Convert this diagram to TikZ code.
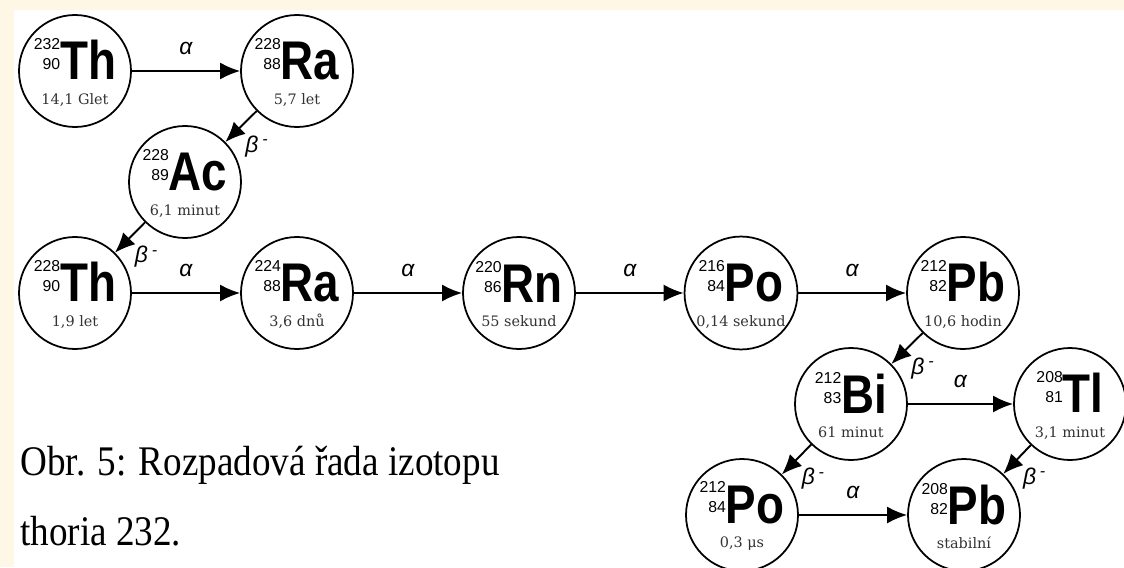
\documentclass[tikz,border=0pt]{standalone}
\usepackage{fontspec}
\setmainfont{Liberation Serif}
\newfontfamily\symfont[FakeStretch=0.84]{Liberation Sans}
\newfontfamily\numfont{Liberation Sans}
\newfontfamily\lifefont{DejaVu Serif}
\newfontfamily\capfont[FakeStretch=0.88]{Liberation Serif}
\usepackage{tikz}
\usetikzlibrary{arrows.meta,positioning}
\definecolor{cream}{RGB}{255,247,230}
\definecolor{lifegray}{RGB}{51,51,51}

% mass number, atomic number, element symbol
\newcommand{\nuc}[3]{%
	{\color{black}\numfont\fontsize{9}{10.8}\selectfont
		\raisebox{6pt}{\begin{tabular}[b]{@{}r@{}}#1\\[0.6pt]#2\end{tabular}}}%
	{\color{black}\symfont\bfseries\fontsize{31}{33}\selectfont #3}}

\begin{document}
\begin{tikzpicture}[
		node distance=4.44cm,
		>={Latex[length=4mm,width=3.4mm]},
		font=\lifefont\fontsize{8.2}{9.8}\selectfont,
		nuclide/.style={
			circle,
			draw=black,
			line width=1pt,
			minimum size=2.24cm,
			inner sep=0pt,
			align=center,
			text=lifegray,
			fill=white
		},
		decay/.style={
			->,
			line width=1.1pt
		},
		lbl/.style={
			font=\numfont\itshape\fontsize{13}{15}\selectfont,
			inner sep=0pt,
			text=black
		},
		betalbl/.style={
			lbl,
			pos=0.9,
			right=0.32cm,
			yshift=-1.5mm
		}
		]
		\useasboundingbox (-1.5,1.42) rectangle (20.98,-9.92);
		\fill [cream] (-1.5,1.42) rectangle (20.98,1.22);
		\fill [cream] (-1.5,1.42) rectangle (-1.22,-9.92);
		
		% We start by placing the nuclides
		\node [nuclide] (th232) {\nuc{232}{90}{Th}\\[4pt]14,1 Glet};
		\node [nuclide, right of=th232] (ra228) {\nuc{228}{88}{Ra}\\[4pt]5,7 let};
		\node [nuclide, below of=ra228, node distance=2.22cm, xshift=-2.24cm] (ac228) {\nuc{228}{89}{Ac}\\[4pt]6,1 minut};
		\node [nuclide, below of=ac228, node distance=2.22cm, xshift=-2.2cm] (th228) {\nuc{228}{90}{Th}\\[4pt]1,9 let};
		\node [nuclide, right of=th228] (ra224) {\nuc{224}{88}{Ra}\\[4pt]3,6 dnů};
		\node [nuclide, right of=ra224] (rn220) {\nuc{220}{86}{Rn}\\[4pt]55 sekund};
		\node [nuclide, right of=rn220] (po216) {\nuc{216}{84}{Po}\\[4pt]0,14 sekund};
		\node [nuclide, right of=po216] (pb212) {\nuc{212}{82}{Pb}\\[4pt]10,6 hodin};
		\node [nuclide, below of=pb212, node distance=2.22cm, xshift=-2.24cm] (bi212) {\nuc{212}{83}{Bi}\\[4pt]61 minut};
		\node [nuclide, right of=bi212, xshift=-0.06cm] (tl208) {\nuc{208}{81}{Tl}\\[4pt]3,1 minut};
		\node [nuclide, below of=bi212, node distance=2.22cm, xshift=-2.18cm] (po212) {\nuc{212}{84}{Po}\\[4pt]0,3 μs};
		\node [nuclide, right of=po212] (pb208) {\nuc{208}{82}{Pb}\\[4pt]stabilní};
		
		% caption
		\node [anchor=base west, align=left, inner sep=0pt, font=\capfont\fontsize{24}{39.8}\selectfont] (caption) at (-1.1,-9.48) {Obr. 5: Rozpadová řada izotopu\\thoria 232.};
		
		% decays
		\draw [decay] (th232) -- node [lbl, above=0.3cm] {α} (ra228);
		\draw [decay] (ra228) -- node [betalbl] {β\,\textsuperscript{-}} (ac228);
		\draw [decay] (ac228) -- node [betalbl] {β\,\textsuperscript{-}} (th228);
		\draw [decay] (th228) -- node [lbl, above=0.3cm] {α} (ra224);
		\draw [decay] (ra224) -- node [lbl, above=0.3cm] {α} (rn220);
		\draw [decay] (rn220) -- node [lbl, above=0.3cm] {α} (po216);
		\draw [decay] (po216) -- node [lbl, above=0.3cm] {α} (pb212);
		\draw [decay] (pb212) -- node [betalbl] {β\,\textsuperscript{-}} (bi212);
		\draw [decay] (bi212) -- node [lbl, above=0.3cm] {α} (tl208);
		\draw [decay] (bi212) -- node [betalbl] {β\,\textsuperscript{-}} (po212);
		\draw [decay] (tl208) -- node [betalbl] {β\,\textsuperscript{-}} (pb208);
		\draw [decay] (po212) -- node [lbl, above=0.3cm] {α} (pb208);
		
\end{tikzpicture}
\end{document}
